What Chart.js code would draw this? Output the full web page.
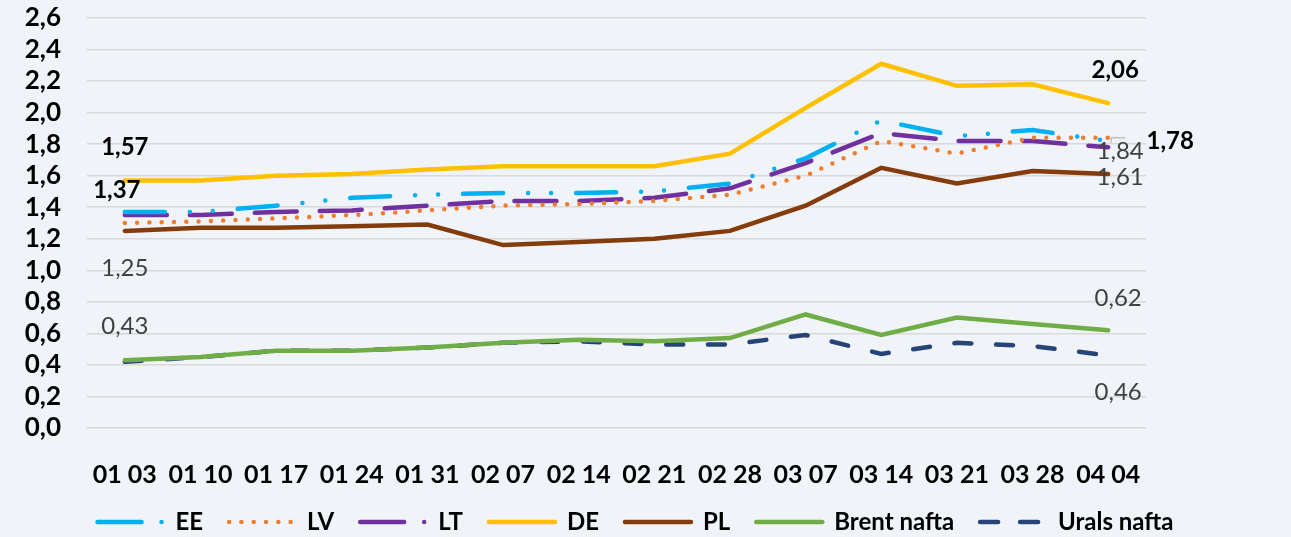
<!DOCTYPE html>
<html>
<head>
<meta charset="utf-8">
<script src="https://cdn.jsdelivr.net/npm/chart.js@4"></script>
<style>
  html, body { margin: 0; padding: 0; background: #F0F3F7; }
  #wrap { width: 1291px; height: 537px; }
</style>
</head>
<body>
<div id="wrap"><canvas id="fuelChart"></canvas></div>
<script>
const weeks = ['01 03', '01 10', '01 17', '01 24', '01 31', '02 07', '02 14',
  '02 21', '02 28', '03 07', '03 14', '03 21', '03 28', '04 04'];

const ee    = [1.37, 1.37, 1.41, 1.46, 1.48, 1.49, 1.49, 1.50, 1.55, 1.71, 1.95, 1.85, 1.89, 1.82];
const lv    = [1.30, 1.31, 1.33, 1.35, 1.38, 1.41, 1.42, 1.44, 1.48, 1.60, 1.82, 1.74, 1.84, 1.84];
const lt    = [1.35, 1.35, 1.37, 1.38, 1.41, 1.44, 1.44, 1.46, 1.52, 1.68, 1.87, 1.82, 1.82, 1.78];
const de    = [1.57, 1.57, 1.60, 1.61, 1.64, 1.66, 1.66, 1.66, 1.74, 2.03, 2.31, 2.17, 2.18, 2.06];
const pl    = [1.25, 1.27, 1.27, 1.28, 1.29, 1.16, 1.18, 1.20, 1.25, 1.41, 1.65, 1.55, 1.63, 1.61];
const brent = [0.43, 0.45, 0.49, 0.49, 0.51, 0.54, 0.56, 0.55, 0.57, 0.72, 0.59, 0.70, 0.66, 0.62];
const urals = [0.42, 0.45, 0.49, 0.49, 0.51, 0.54, 0.55, 0.53, 0.53, 0.59, 0.47, 0.54, 0.52, 0.46];

const FONT = "Lato, 'Open Sans', sans-serif";

// which values get a label: dataset, point, offset, bold
const valueLabels = [
  { ds: 3, i: 0,  dx: 0,  dy: -33, bold: true },
  { ds: 0, i: 0,  dx: -8, dy: -22, bold: true },
  { ds: 4, i: 0,  dx: 0,  dy: 37,  bold: false },
  { ds: 5, i: 0,  dx: 0,  dy: -34, bold: false },
  { ds: 3, i: 13, dx: 7,  dy: -33, bold: true },
  { ds: 2, i: 13, dx: 62, dy: -6,  bold: true },
  { ds: 1, i: 13, dx: 12, dy: 13,  bold: false, leader: true },
  { ds: 4, i: 13, dx: 12, dy: 3,   bold: false },
  { ds: 5, i: 13, dx: 10, dy: -32, bold: false },
  { ds: 6, i: 13, dx: 10, dy: 37,  bold: false }
];

const labelPlugin = {
  id: 'valueLabels',
  afterDatasetsDraw(chart) {
    const ctx = chart.ctx;
    ctx.save();
    ctx.textAlign = 'center';
    ctx.textBaseline = 'middle';
    valueLabels.forEach(l => {
      const pt = chart.getDatasetMeta(l.ds).data[l.i];
      const v = chart.data.datasets[l.ds].data[l.i];
      if (l.leader) {
        ctx.strokeStyle = '#A6A6A6';
        ctx.lineWidth = 1;
        ctx.beginPath();
        ctx.moveTo(pt.x + 3, pt.y + 5);
        ctx.lineTo(pt.x + 3, pt.y);
        ctx.lineTo(pt.x + 17, pt.y);
        ctx.stroke();
      }
      ctx.font = (l.bold ? 'bold ' : '') + '24px ' + FONT;
      ctx.fillStyle = l.bold ? '#000000' : '#404040';
      ctx.fillText(v.toFixed(2).replace('.', ','), pt.x + l.dx, pt.y + l.dy);
    });
    ctx.restore();
  }
};

const mk = (label, data, color, dash) => ({
  label: label,
  data: data,
  borderColor: color,
  backgroundColor: color,
  borderWidth: 4.5,
  borderDash: dash,
  borderCapStyle: 'round',
  pointRadius: 0,
  tension: 0,
  fill: false
});

const noPad = scale => { scale.paddingTop = 0; scale.paddingBottom = 0; };

const config = {
  type: 'line',
  data: {
    labels: weeks,
    datasets: [
      mk('EE', ee, '#00B0F0', [40, 25, 0, 23, 0, 25]),
      mk('LV', lv, '#ED7D31', [0, 12.3]),
      mk('LT', lt, '#7030A0', [42, 23]),
      mk('DE', de, '#FFC000', []),
      mk('PL', pl, '#843C0C', []),
      mk('Brent nafta', brent, '#70AD47', []),
      mk('Urals nafta', urals, '#264478', [17, 24.7])
    ]
  },
  options: {
    responsive: true,
    maintainAspectRatio: false,
    animation: false,
    layout: { padding: { left: 0, right: 20, top: 18, bottom: -7 } },
    plugins: {
      legend: {
        position: 'bottom',
        labels: {
          usePointStyle: true,
          pointStyle: 'line',
          pointStyleWidth: 66,
          boxHeight: 10,
          padding: 26,
          color: '#000000',
          font: { family: FONT, size: 24, weight: 'bold' },
          generateLabels(chart) {
            const items = Chart.defaults.plugins.legend.labels.generateLabels(chart);
            items.forEach(it => {
              if (it.text === 'EE' || it.text === 'LT') it.lineDash = [44, 20, 0, 30];
              if (it.text === 'LV') it.lineDash = [0, 12.3];
              if (it.text === 'Urals nafta') it.lineDash = [18, 22];
              it.lineCap = 'round';
            });
            return items;
          }
        }
      },
      tooltip: { enabled: false }
    },
    scales: {
      x: {
        offset: true,
        afterFit(scale) { scale.height = 56; },
        grid: { display: false },
        border: { display: false },
        ticks: {
          color: '#000000',
          maxRotation: 0,
          autoSkip: false,
          padding: 24,
          font: { family: FONT, size: 25, weight: 'bold' }
        }
      },
      y: {
        min: 0,
        max: 2.6,
        afterFit(scale) { scale.width = 87; noPad(scale); },
        grid: { color: '#D9D9D9', lineWidth: 1.5, drawTicks: false },
        border: { display: false },
        ticks: {
          stepSize: 0.2,
          autoSkip: false,
          padding: 26,
          color: '#000000',
          font: { family: FONT, size: 26, weight: 'bold' },
          callback: v => v.toFixed(1).replace('.', ',')
        }
      },
      yRight: {
        position: 'right',
        display: true,
        afterFit(scale) { scale.width = 125; noPad(scale); },
        grid: { display: false },
        border: { display: false },
        ticks: { display: false }
      }
    }
  },
  plugins: [labelPlugin]
};

new Chart(document.getElementById('fuelChart'), config);
</script>
</body>
</html>
